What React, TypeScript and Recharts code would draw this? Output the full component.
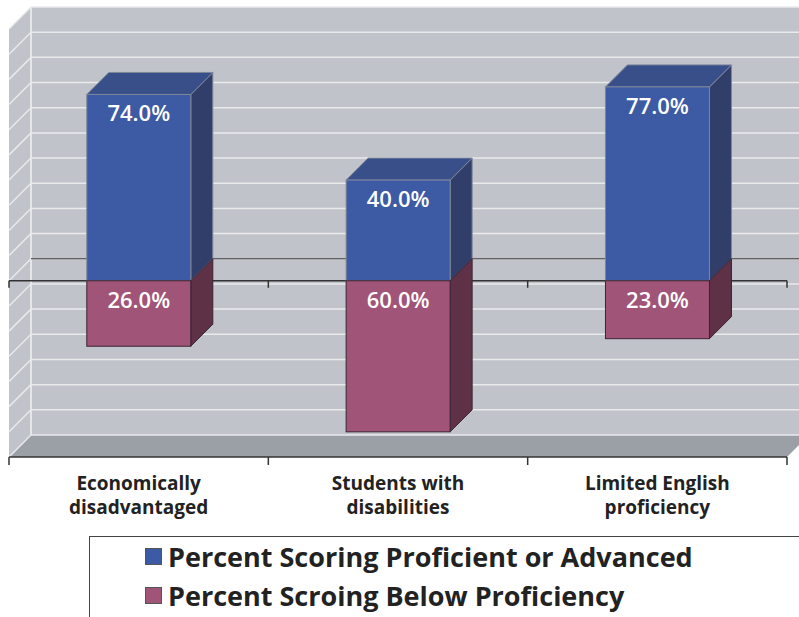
import React from "react";
import {
  BarChart,
  Bar,
  XAxis,
  YAxis,
  CartesianGrid,
  ReferenceArea,
  ReferenceLine,
  LabelList,
} from "recharts";

// chart data
const categories = [
  "Economically\ndisadvantaged",
  "Students with\ndisabilities",
  "Limited English\nproficiency",
];
const proficient = [74, 40, 77];
const belowProficiency = [-26, -60, -23];
const seriesNames = [
  "Percent Scoring Proficient or Advanced",
  "Percent Scroing Below Proficiency",
];
const yTicks = [-70, -60, -50, -40, -30, -20, -10, 0, 10, 20, 30, 40, 50, 60, 70, 80, 90, 100];

const rows = categories.map((name, i) => ({
  name,
  proficient: proficient[i],
  below: belowProficiency[i],
}));

const FONT = "'Open Sans', 'DejaVu Sans', sans-serif";
const D = 22; // depth of the 3d effect
const WALL = "#c0c3c9";
const FLOOR = "#9ba0a7";
const GRID = "#e9eaec";
const AXIS = "#333333";

const BLUE = { face: "#3d5aa4", side: "#323e6a", top: "#394f8a", edge: "#7d8699" };
const PINK = { face: "#a05478", side: "#5e3147", top: "#7a3d5b", edge: "#3c2433" };
const legendColors = [BLUE.face, PINK.face];

// back wall, side wall, floor
const Walls = (props: any) => {
  const { x, y, width, height } = props;
  const b = y + height;
  const n = categories.length;
  return (
    <g>
      <rect x={x + D} y={y - D} width={width} height={height} fill={WALL} />
      <polygon points={`${x},${y} ${x + D},${y - D} ${x + D},${b - D} ${x},${b}`} fill={WALL} />
      <polygon
        points={`${x},${b} ${x + D},${b - D} ${x + width + D},${b - D} ${x + width},${b}`}
        fill={FLOOR}
      />
      <line x1={x + D} y1={y - D} x2={x + D} y2={b - D} stroke="#f2f2f2" strokeWidth={1.5} />
      {Array.from({ length: n + 1 }).map((_, i) => (
        <line
          key={i}
          x1={x + (i * width) / n}
          x2={x + (i * width) / n}
          y1={b}
          y2={b + 8}
          stroke={AXIS}
          strokeWidth={1.5}
        />
      ))}
    </g>
  );
};

const gridLine = (p: any) => {
  const { x1, x2, y1 } = p;
  return (
    <g key={p.key}>
      <line x1={x1 + D} x2={x2 + D} y1={y1 - D} y2={y1 - D} stroke={GRID} strokeWidth={1.5} />
      <line x1={x1} x2={x1 + D} y1={y1} y2={y1 - D} stroke={GRID} strokeWidth={1.5} />
    </g>
  );
};

const ZeroLine = (p: any) => {
  const { x1, x2, y1 } = p;
  const n = categories.length;
  const w = x2 - x1;
  return (
    <g>
      <line x1={x1 + D} x2={x2 + D} y1={y1 - D} y2={y1 - D} stroke={AXIS} strokeWidth={1.2} />
      <line x1={x1} x2={x2} y1={y1} y2={y1} stroke={AXIS} strokeWidth={1.5} />
      {Array.from({ length: n + 1 }).map((_, i) => (
        <line
          key={i}
          x1={x1 + (i * w) / n}
          x2={x1 + (i * w) / n}
          y1={y1}
          y2={y1 + 7}
          stroke={AXIS}
          strokeWidth={1.5}
        />
      ))}
    </g>
  );
};

const makeBox = (c: typeof BLUE, showTop: boolean) => (props: any) => {
  const { x, y, width, height } = props;
  if (x == null || y == null) return null;
  const y0 = Math.min(y, y + height);
  const h = Math.abs(height);
  const r = x + width;
  const b = y0 + h;
  return (
    <g>
      <polygon
        points={`${r},${y0} ${r + D},${y0 - D} ${r + D},${b - D} ${r},${b}`}
        fill={c.side}
        stroke={c.edge}
        strokeWidth={1}
      />
      {showTop && (
        <polygon
          points={`${x},${y0} ${x + D},${y0 - D} ${r + D},${y0 - D} ${r},${y0}`}
          fill={c.top}
          stroke={c.edge}
          strokeWidth={1}
        />
      )}
      <rect x={x} y={y0} width={width} height={h} fill={c.face} stroke={c.edge} strokeWidth={1} />
    </g>
  );
};

const valueLabel = (props: any) => {
  const vb = props.viewBox || props;
  const { x, y, width, height } = vb;
  if (x == null) return null;
  const y0 = Math.min(y, y + height);
  return (
    <text
      x={x + width / 2}
      y={y0 + 27}
      textAnchor="middle"
      fill="#ffffff"
      fontSize={22}
      fontWeight={600}
      fontFamily={FONT}
    >
      {Math.abs(Number(props.value)).toFixed(1)}%
    </text>
  );
};

const CategoryTick = (props: any) => {
  const { x, y, payload } = props;
  const lines = String(payload.value).split("\n");
  return (
    <g>
      {lines.map((l, i) => (
        <text
          key={i}
          x={x}
          y={y + 25 + i * 24}
          textAnchor="middle"
          fill="#222222"
          fontSize={19}
          fontWeight={700}
          fontFamily={FONT}
        >
          {l}
        </text>
      ))}
    </g>
  );
};

export default function App() {
  return (
    <div
      style={{
        position: "absolute",
        left: 0,
        top: 0,
        width: 799,
        height: 617,
        background: "#ffffff",
        overflow: "hidden",
      }}
    >
      <BarChart
        width={799}
        height={617}
        data={rows}
        stackOffset="sign"
        barCategoryGap="30%"
        margin={{ top: 29, right: 12, bottom: 100, left: 9 }}
      >
        <XAxis
          dataKey="name"
          height={60}
          interval={0}
          axisLine={{ stroke: AXIS, strokeWidth: 1.5 }}
          tickLine={false}
          tick={<CategoryTick />}
        />
        <YAxis hide domain={[-70, 100]} ticks={yTicks} type="number" />
        <ReferenceArea y1={-70} y2={100} shape={<Walls />} zIndex={-200} ifOverflow="visible" />
        <CartesianGrid vertical={false} horizontal={gridLine} zIndex={-100} />
        <ReferenceLine y={0} shape={<ZeroLine />} zIndex={-50} ifOverflow="visible" />
        <Bar
          dataKey="proficient"
          stackId="a"
          isAnimationActive={false}
          fill={BLUE.face}
          shape={makeBox(BLUE, true)}
        >
          <LabelList dataKey="proficient" content={valueLabel} />
        </Bar>
        <Bar
          dataKey="below"
          stackId="a"
          isAnimationActive={false}
          fill={PINK.face}
          shape={makeBox(PINK, false)}
        >
          <LabelList dataKey="below" content={valueLabel} />
        </Bar>
      </BarChart>
      <div
        style={{
          position: "absolute",
          left: 89,
          top: 536,
          width: 760,
          height: 120,
          border: "1px solid #444",
          boxSizing: "border-box",
          fontFamily: FONT,
        }}
      >
        {seriesNames.map((s, i) => (
          <div
            key={s}
            style={{
              position: "absolute",
              left: 55,
              top: 2 + i * 39,
              display: "flex",
              alignItems: "center",
              height: 34,
              whiteSpace: "nowrap",
            }}
          >
            <span
              style={{
                display: "inline-block",
                width: 15,
                height: 15,
                background: legendColors[i],
                border: "1px solid #555",
                marginRight: 6,
              }}
            />
            <span style={{ fontSize: 27, fontWeight: 700, color: "#222" }}>{s}</span>
          </div>
        ))}
      </div>
    </div>
  );
}
